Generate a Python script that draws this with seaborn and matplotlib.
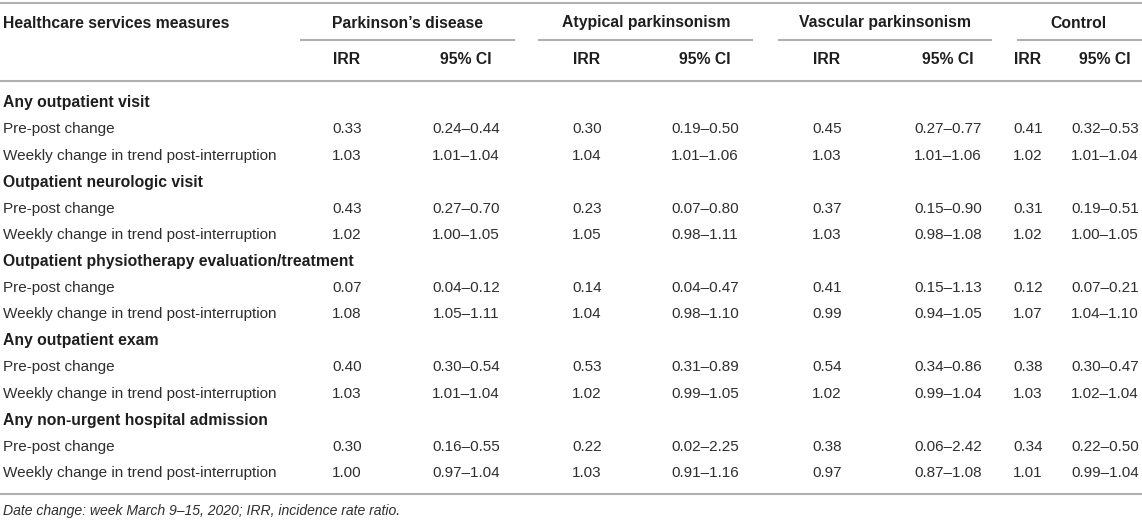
import matplotlib
matplotlib.use("Agg")
import matplotlib.pyplot as plt
import seaborn as sns

sns.set_theme(style="white")
plt.rcParams['font.family'] = ['Liberation Sans', 'DejaVu Sans']

# ---------------- data ----------------
groups = ["Parkinson’s disease", "Atypical parkinsonism", "Vascular parkinsonism", "Control"]
sections = ["Any outpatient visit", "Outpatient neurologic visit",
            "Outpatient physiotherapy evaluation/treatment", "Any outpatient exam",
            "Any non-urgent hospital admission"]
row_labels = ["Pre-post change", "Weekly change in trend post-interruption"]

pd_irr = [0.33, 1.03, 0.43, 1.02, 0.07, 1.08, 0.40, 1.03, 0.30, 1.00]
pd_lo = [0.24, 1.01, 0.27, 1.00, 0.04, 1.05, 0.30, 1.01, 0.16, 0.97]
pd_hi = [0.44, 1.04, 0.70, 1.05, 0.12, 1.11, 0.54, 1.04, 0.55, 1.04]

ap_irr = [0.30, 1.04, 0.23, 1.05, 0.14, 1.04, 0.53, 1.02, 0.22, 1.03]
ap_lo = [0.19, 1.01, 0.07, 0.98, 0.04, 0.98, 0.31, 0.99, 0.02, 0.91]
ap_hi = [0.50, 1.06, 0.80, 1.11, 0.47, 1.10, 0.89, 1.05, 2.25, 1.16]

vp_irr = [0.45, 1.03, 0.37, 1.03, 0.41, 0.99, 0.54, 1.02, 0.38, 0.97]
vp_lo = [0.27, 1.01, 0.15, 0.98, 0.15, 0.94, 0.34, 0.99, 0.06, 0.87]
vp_hi = [0.77, 1.06, 0.90, 1.08, 1.13, 1.05, 0.86, 1.04, 2.42, 1.08]

c_irr = [0.41, 1.02, 0.31, 1.02, 0.12, 1.07, 0.38, 1.03, 0.34, 1.01]
c_lo = [0.32, 1.01, 0.19, 1.00, 0.07, 1.04, 0.30, 1.02, 0.22, 0.99]
c_hi = [0.53, 1.04, 0.51, 1.05, 0.21, 1.10, 0.47, 1.04, 0.50, 1.04]

header_first = "Healthcare services measures"
sub_headers = ["IRR", "95% CI"]
footnote = "Date change: week March 9–15, 2020; IRR, incidence rate ratio."

# ---------------- layout ----------------
W, H = 1142, 521
fig = plt.figure(figsize=(W / 100, H / 100), dpi=100)
ax = fig.add_axes([0, 0, 1, 1])
ax.set_xlim(0, W)
ax.set_ylim(H, 0)
ax.axis("off")

FS = 11.0
FSB = 11.3
FSN = 10.1
TXT = "#2e2e2e"
BOLD = "#1e1e1e"
LINE = "#b0b0b0"

group_centers = [407, 646, 885, 1078]
group_spans = [(300, 515), (538, 753), (778, 992), (1017, 1142)]
irr_x = [347, 587, 827, 1028]
ci_x = [466, 705, 948, 1105]

series = [(pd_irr, pd_lo, pd_hi), (ap_irr, ap_lo, ap_hi),
          (vp_irr, vp_lo, vp_hi), (c_irr, c_lo, c_hi)]

# rules
for yl in (3, 81, 494):
    ax.plot([0, W], [yl, yl], color=LINE, lw=1.5, solid_capstyle="butt")
for (a, b) in group_spans:
    ax.plot([a, b], [39.5, 39.5], color=LINE, lw=1.5, solid_capstyle="butt")

# headers
ax.text(3, 23, header_first, fontsize=FSB, fontweight="bold", color=BOLD,
        ha="left", va="center")
for g, cx in zip(groups, group_centers):
    ax.text(cx, 23, g, fontsize=FSB, fontweight="bold", color=BOLD,
            ha="center", va="center")
for xi, xc in zip(irr_x, ci_x):
    ax.text(xi, 60, sub_headers[0], fontsize=FSB, fontweight="bold", color=BOLD,
            ha="center", va="center")
    ax.text(xc, 60, sub_headers[1], fontsize=FSB, fontweight="bold", color=BOLD,
            ha="center", va="center")

# body
y0 = 103
dy = 26.43
r = 0
for si, sec in enumerate(sections):
    ax.text(3, y0 + r * dy, sec, fontsize=FSB, fontweight="bold", color=BOLD,
            ha="left", va="center")
    r += 1
    for k in range(2):
        idx = si * 2 + k
        y = y0 + r * dy
        ax.text(3, y, row_labels[k], fontsize=FS, color=TXT, ha="left", va="center")
        for (irr, lo, hi), xi, xc in zip(series, irr_x, ci_x):
            ax.text(xi, y, f"{irr[idx]:.2f}", fontsize=FS, color=TXT,
                    ha="center", va="center")
            ax.text(xc, y, f"{lo[idx]:.2f}–{hi[idx]:.2f}", fontsize=FS, color=TXT,
                    ha="center", va="center")
        r += 1

ax.text(3, 511, footnote, fontsize=FSN, style="italic", color=TXT,
        ha="left", va="center")

fig.savefig("out.png", dpi=100)
